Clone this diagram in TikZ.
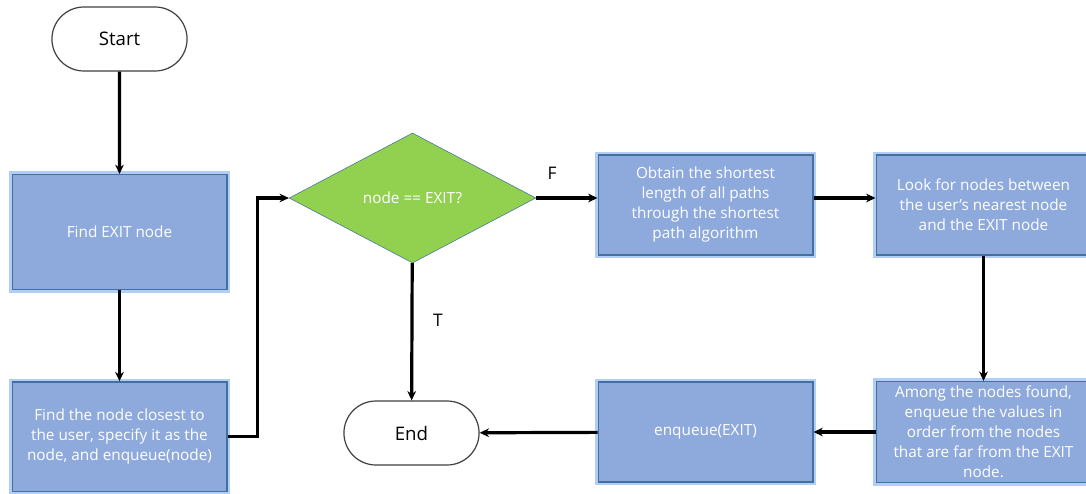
\documentclass[tikz,border=0pt]{standalone}
\usepackage{fontspec}
\setmainfont{Open Sans}
\usetikzlibrary{shapes.geometric,shapes.misc,arrows.meta}
\definecolor{boxfill}{RGB}{142,169,219}
\definecolor{boxline}{RGB}{65,113,156}
\definecolor{boxglow}{RGB}{178,206,246}
\definecolor{checkfill}{RGB}{146,208,80}
\begin{document}
\begin{tikzpicture}
[x=0.75pt, y=-0.75pt, >={Stealth[length=7pt,width=6.5pt]},
 step box/.style={rectangle, draw=boxline, line width=1pt, fill=boxfill,
   preaction={draw=boxglow, line width=5pt},
   minimum width=161pt, align=center, text=white,
   font=\fontsize{11.5}{15}\selectfont},
 term/.style={rounded rectangle, draw=black!75, line width=0.9pt, fill=white,
   minimum width=108pt, minimum height=48pt, font=\fontsize{14}{16}\selectfont},
 arrow/.style={->, line width=2.4pt}]
\useasboundingbox (0,0) rectangle (1086,493);

\node (Start) at (119.5,39) [term] {Start};
\node (find) at (119.5,232) [step box, minimum height=86pt] {Find EXIT node};
\node (closest) at (119.5,436.5) [step box, minimum height=82pt]
  {Find the node closest to\\the user, specify it as the\\node, and enqueue(node)};
\node (check) at (412.5,198) [diamond, draw=boxline, thin, fill=checkfill,
  minimum width=185pt, minimum height=97.5pt, inner sep=0pt, text=white,
  font=\fontsize{11.5}{15}\selectfont] {node == EXIT?};
\node (obtain) at (705.5,205) [step box, minimum height=75pt]
  {Obtain the shortest\\length of all paths\\through the shortest\\path algorithm};
\node (look) at (983.5,205) [step box, minimum height=75pt]
  {Look for nodes between\\the user's nearest node\\and the EXIT node};
\node (among) at (983.5,432) [step box, minimum height=75pt]
  {Among the nodes found,\\enqueue the values in\\order from the nodes\\that are far from the EXIT\\node.};
\node (enq) at (705.5,432) [step box, minimum height=75pt] {enqueue(EXIT)};
\node (End) at (411.5,433) [term] {End};

\draw[arrow] (Start) -- (find);
\draw[arrow] (find) -- (closest);
\draw[arrow] (closest.east) -- ++(30,0) |- (check.west);
\draw[arrow] (check.east) -- (check.east -| obtain.west);
\draw[arrow] (obtain.east |- check.east) -- (look.west |- check.east);
\draw[arrow] (look) -- (among);
\draw[arrow] (among) -- (enq);
\draw[arrow] (enq) -- (End);
\draw[arrow] (check) -- (End);

\node (F) at (552,173) [font=\fontsize{13}{15}\selectfont] {F};
\node (T) at (438,320) [font=\fontsize{13}{15}\selectfont] {T};
\end{tikzpicture}
\end{document}
